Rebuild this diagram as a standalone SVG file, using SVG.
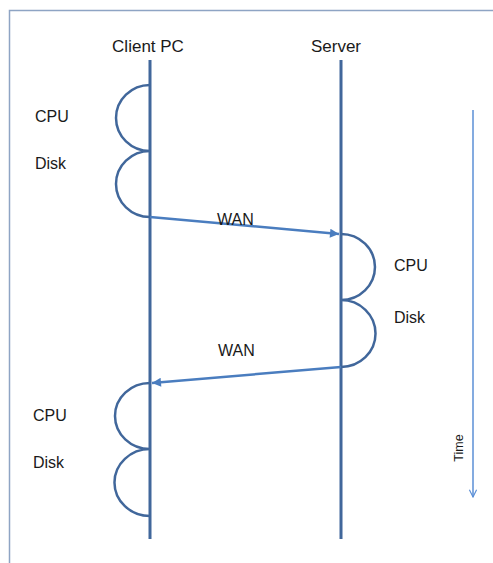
<svg xmlns="http://www.w3.org/2000/svg" width="493" height="563" viewBox="0 0 493 563">
<style>
.life{stroke:#41679b;stroke-width:3;fill:none}
.arc{stroke:#41679b;stroke-width:2.5;fill:none}
.wan{stroke:#4a7dbf;stroke-width:2.5;fill:none}
.time{stroke:#5b8fd6;stroke-width:1.5;fill:none}
.lbl{font-family:"Liberation Sans",Arial,sans-serif;font-size:16px;fill:#1a1a1a}
.hdr{font-family:"Liberation Sans",Arial,sans-serif;font-size:17px;fill:#1a1a1a;text-anchor:middle}
</style>
<defs>
<marker id="ah" viewBox="0 0 10 10" refX="10" refY="5" markerWidth="11" markerHeight="9" markerUnits="userSpaceOnUse" orient="auto">
<path d="M0,0 L10,5 L0,10 Z" fill="#4a7dbf"/>
</marker>
<marker id="oh" viewBox="0 0 10 10" refX="9" refY="5" markerWidth="9" markerHeight="12" markerUnits="userSpaceOnUse" orient="auto">
<path d="M1,1 L9,5 L1,9" fill="none" stroke="#5b8fd6" stroke-width="1.3"/>
</marker>
</defs>
<rect x="9.5" y="10.5" width="500" height="570" fill="none" stroke="#8ea4c4" stroke-width="1.5"/>
<g id="client">
<line class="life" x1="150" y1="60" x2="150" y2="539"/>
<text class="hdr" x="148" y="52">Client PC</text>
</g>
<g id="server">
<line class="life" x1="341" y1="60" x2="341" y2="539"/>
<text class="hdr" x="336" y="52">Server</text>
</g>
<g id="client-work1">
<path class="arc" d="M150,85 A34,33 0 0 0 150,151 A34,33 0 0 0 150,217"/>
<text class="lbl" x="35" y="122">CPU</text>
<text class="lbl" x="35" y="169">Disk</text>
</g>
<g id="server-work">
<path class="arc" d="M341,234 A34,33 0 0 1 341,300 A34,33 0 0 1 341,367"/>
<text class="lbl" x="394" y="271">CPU</text>
<text class="lbl" x="394" y="323">Disk</text>
</g>
<g id="client-work2">
<path class="arc" d="M150,383 A35,33 0 0 0 150,449 A35,33 0 0 0 150,516"/>
<text class="lbl" x="33" y="421">CPU</text>
<text class="lbl" x="33" y="468">Disk</text>
</g>
<g id="time">
<text font-family="Liberation Sans, Arial, sans-serif" font-size="12.5" fill="#1a1a1a" text-anchor="middle" transform="translate(463,448) rotate(-90)">Time</text>
</g>
<g id="connectors">
<line class="wan" x1="150" y1="217" x2="339" y2="234" marker-end="url(#ah)"/>
<line class="wan" x1="341" y1="367" x2="152" y2="383" marker-end="url(#ah)"/>
<line class="time" x1="473" y1="110" x2="473" y2="497" marker-end="url(#oh)"/>
<text class="lbl" x="217" y="225" font-size="17">WAN</text>
<text class="lbl" x="218" y="356" font-size="17">WAN</text>
</g>
</svg>
